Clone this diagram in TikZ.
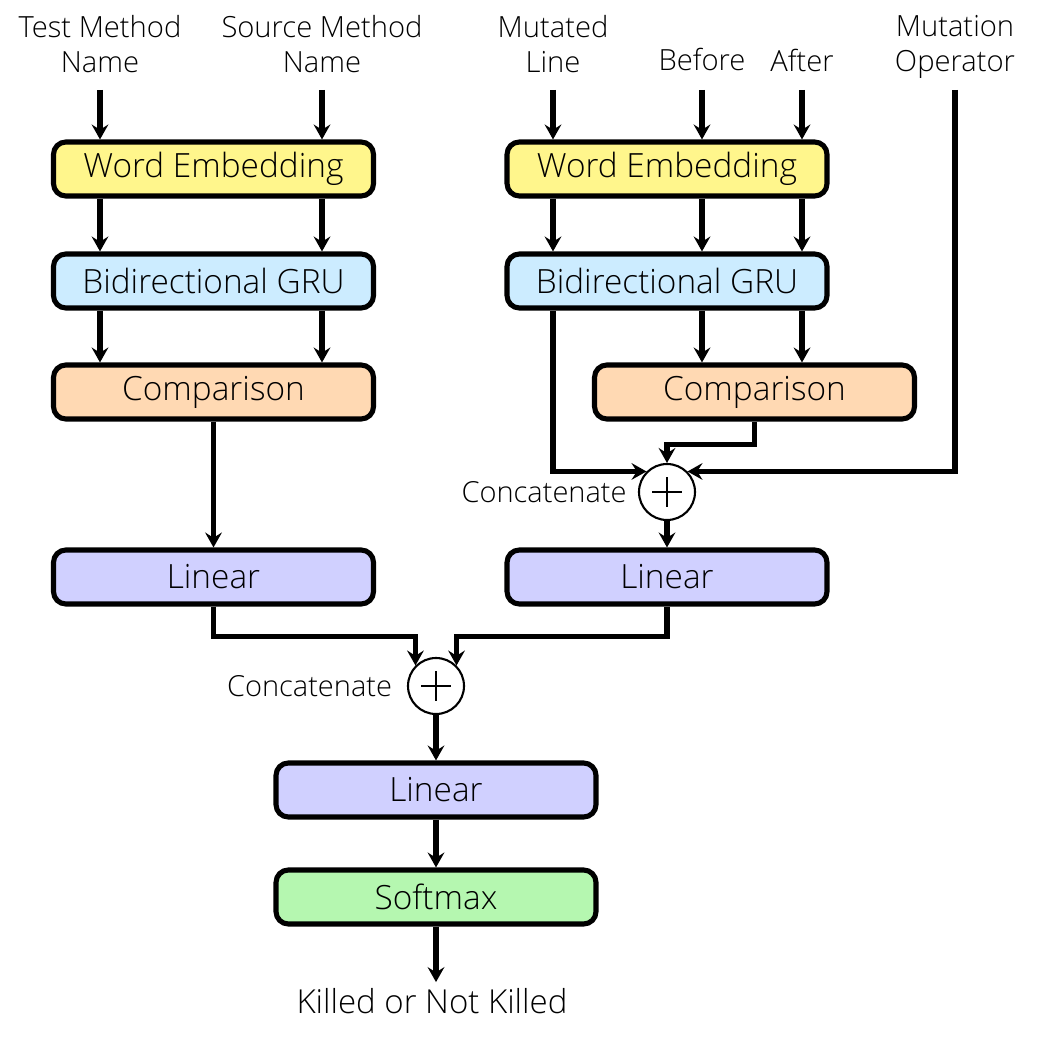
\documentclass[tikz,border=0pt]{standalone}
\usepackage{fontspec}
\setmainfont{Open Sans Light}
\usetikzlibrary{positioning,arrows.meta}

\definecolor{embcol}{RGB}{255,246,140}
\definecolor{grucol}{RGB}{204,236,255}
\definecolor{cmpcol}{RGB}{255,217,179}
\definecolor{lincol}{RGB}{208,208,255}
\definecolor{smcol}{RGB}{181,247,176}

\tikzset{
  block/.style={draw, line width=2.9pt, rounded corners=7pt, minimum width=6.4cm,
    minimum height=1.08cm, inner sep=0pt, font=\fontsize{19}{22}\selectfont},
  inlabel/.style={align=center, font=\fontsize{16.6}{20}\selectfont},
  arr/.style={line width=2.9pt, -{Stealth[length=8.5pt,width=9.5pt,inset=3pt]}},
  concat/.style={circle, draw, line width=1.2pt, fill=white, minimum size=1.12cm,
    path picture={
      \draw[line width=0.9pt] ([xshift=-8.5pt]path picture bounding box.center) -- ([xshift=8.5pt]path picture bounding box.center)
        ([yshift=-8.5pt]path picture bounding box.center) -- ([yshift=8.5pt]path picture bounding box.center);
    }},
  catlabel/.style={font=\fontsize{16.5}{19}\selectfont},
}

\begin{document}
\begin{tikzpicture}[x=0.02cm,y=-0.02cm]
\useasboundingbox (0,0) rectangle (1051,1044);

% inputs
\node[inlabel] (tm) at (100,44) {Test Method\\Name};
\node[inlabel] (sm) at (322,44) {Source Method\\Name};
\node[inlabel] (ml) at (553,44) {Mutated\\Line};
\node[inlabel] (bf) at (702,59) {Before};
\node[inlabel] (af) at (802,60) {After};
\node[inlabel] (mo) at (955,47) {Mutation\\Operator};
\coordinate (top) at (0,90);

% left branch
\node[block, fill=embcol] (we1) at (213.5,169) {Word Embedding};
\node[block, fill=grucol] (gru1) at (213.5,281) {Bidirectional GRU};
\node[block, fill=cmpcol] (cmp1) at (213.5,392) {Comparison};
\node[block, fill=lincol] (lin1) at (213.5,577) {Linear};

% right branch
\node[block, fill=embcol] (we2) at (667,169) {Word Embedding};
\node[block, fill=grucol] (gru2) at (667,281) {Bidirectional GRU};
\node[block, fill=cmpcol] (cmp2) at (754.5,392) {Comparison};
\node[concat] (c2) at (667,492) {};
\node[catlabel, left=3pt of c2] (cat2) {Concatenate};
\node[block, fill=lincol] (lin2) at (667,577) {Linear};

% merge
\node[concat] (c1) at (436,686) {};
\node[catlabel, left=5pt of c1] (cat1) {Concatenate};
\node[block, fill=lincol] (lin3) at (436,790) {Linear};
\node[block, fill=smcol] (soft) at (436,897) {Softmax};
\node[inlabel, font=\fontsize{18.8}{22}\selectfont] (res) at (432,1001) {Killed or Not Killed};

\foreach \s in {tm,sm}{
  \draw[arr] (\s |- top) -- (\s |- we1.north);
  \draw[arr] (\s |- we1.south) -- (\s |- gru1.north);
  \draw[arr] (\s |- gru1.south) -- (\s |- cmp1.north);
}
\foreach \s in {ml,bf,af}{
  \draw[arr] (\s |- top) -- (\s |- we2.north);
  \draw[arr] (\s |- we2.south) -- (\s |- gru2.north);
}
\foreach \s in {bf,af}{
  \draw[arr] (\s |- gru2.south) -- (\s |- cmp2.north);
}
\draw[arr] (ml |- gru2.south) |- (c2.135);
\draw[arr] (mo |- top) |- (c2.45);
\draw[arr] (cmp2.south) -- ++(0,23) -| (c2);
\draw[arr] (c2) -- (lin2);

\draw[arr] (cmp1) -- (lin1);
\draw[arr] (lin1.south) -- ++(0,30) -| (c1.135);
\draw[arr] (lin2.south) -- ++(0,30) -| (c1.45);
\draw[arr] (c1) -- (lin3);
\draw[arr] (lin3) -- (soft);
\draw[arr] (soft) -- (soft |- res.north);
\end{tikzpicture}
\end{document}
